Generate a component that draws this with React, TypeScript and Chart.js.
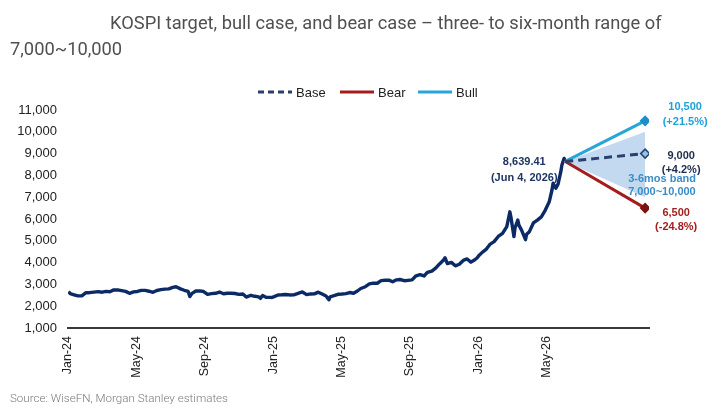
import React, { useEffect, useRef } from "react";
import { Chart, registerables } from "chart.js";

Chart.register(...registerables);

// KOSPI weekly closes (with key intraperiod turning points)
const dates = [
  "2024-01-02", "2024-01-05", "2024-01-12", "2024-01-19", "2024-01-26", "2024-02-02", "2024-02-08", "2024-02-16",
  "2024-02-23", "2024-03-01", "2024-03-08", "2024-03-15", "2024-03-22", "2024-03-29", "2024-04-05", "2024-04-12",
  "2024-04-19", "2024-04-26", "2024-05-03", "2024-05-10", "2024-05-17", "2024-05-24", "2024-05-31", "2024-06-07",
  "2024-06-14", "2024-06-21", "2024-06-28", "2024-07-05", "2024-07-11", "2024-07-19", "2024-07-26", "2024-08-02",
  "2024-08-05", "2024-08-09", "2024-08-16", "2024-08-23", "2024-08-30", "2024-09-06", "2024-09-13", "2024-09-20",
  "2024-09-27", "2024-10-04", "2024-10-11", "2024-10-18", "2024-10-25", "2024-11-01", "2024-11-08", "2024-11-14",
  "2024-11-22", "2024-11-29", "2024-12-06", "2024-12-09", "2024-12-13", "2024-12-20", "2024-12-27", "2024-12-30",
  "2025-01-03", "2025-01-10", "2025-01-17", "2025-01-24", "2025-01-31", "2025-02-07", "2025-02-14", "2025-02-21",
  "2025-02-28", "2025-03-07", "2025-03-14", "2025-03-21", "2025-03-28", "2025-04-04", "2025-04-09", "2025-04-11",
  "2025-04-18", "2025-04-25", "2025-05-02", "2025-05-09", "2025-05-16", "2025-05-23", "2025-05-30", "2025-06-05",
  "2025-06-13", "2025-06-20", "2025-06-27", "2025-07-04", "2025-07-11", "2025-07-18", "2025-07-25", "2025-08-01",
  "2025-08-08", "2025-08-14", "2025-08-22", "2025-08-29", "2025-09-05", "2025-09-12", "2025-09-19", "2025-09-26",
  "2025-10-02", "2025-10-10", "2025-10-17", "2025-10-24", "2025-10-31", "2025-11-03", "2025-11-07", "2025-11-14",
  "2025-11-21", "2025-11-28", "2025-12-05", "2025-12-12", "2025-12-19", "2025-12-26", "2025-12-30", "2026-01-02",
  "2026-01-09", "2026-01-16", "2026-01-23", "2026-01-30", "2026-02-06", "2026-02-13", "2026-02-20", "2026-02-25",
  "2026-02-27", "2026-03-04", "2026-03-06", "2026-03-11", "2026-03-13", "2026-03-18", "2026-03-25", "2026-03-27",
  "2026-04-01", "2026-04-08", "2026-04-15", "2026-04-22", "2026-04-29", "2026-05-06", "2026-05-11", "2026-05-13",
  "2026-05-18", "2026-05-22", "2026-05-27", "2026-05-29", "2026-06-02", "2026-06-04",
];

const kospi = [
  2669, 2578, 2525, 2472, 2478, 2615, 2620, 2648,
  2667, 2642, 2680, 2666, 2748, 2746, 2714, 2681,
  2591, 2656, 2676, 2727, 2724, 2687, 2636, 2722,
  2758, 2784, 2797, 2862, 2891, 2795, 2731, 2676,
  2441, 2588, 2697, 2701, 2674, 2544, 2575, 2593,
  2649, 2569, 2596, 2593, 2583, 2542, 2561, 2418,
  2501, 2455, 2428, 2360, 2494, 2404, 2404, 2399,
  2441, 2515, 2523, 2536, 2517, 2521, 2591, 2654,
  2532, 2563, 2566, 2643, 2557, 2465, 2293, 2432,
  2483, 2546, 2559, 2577, 2627, 2593, 2697, 2812,
  2894, 3021, 3055, 3054, 3175, 3188, 3196, 3119,
  3210, 3225, 3168, 3186, 3205, 3395, 3445, 3386,
  3549, 3610, 3748, 3941, 4107, 4221, 3953, 4011,
  3853, 3926, 4100, 4167, 4020, 4129, 4214, 4310,
  4480, 4620, 4850, 4960, 5200, 5340, 5650, 6330,
  6050, 5190, 5600, 5950, 5720, 5480, 5050, 5300,
  5420, 5820, 5950, 6100, 6410, 6790, 7330, 7640,
  7410, 7600, 8170, 8480, 8780, 8639.41,
];

// Scenario targets
const scenarioNames = ["Base", "Bear", "Bull"];
const scenarioTargets = [9000, 6500, 10500];
const scenarioChanges = ["+4.2%", "-24.8%", "+21.5%"];
const targetDate = "2026-10-25";
const bandRange = [7000, 10000];
const lastClose = 8639.41;
const lastCloseLabel = "(Jun 4, 2026)";

// Axis labels
const monthTickLabels = ["Jan-24", "May-24", "Sep-24", "Jan-25", "May-25", "Sep-25", "Jan-26", "May-26"];
const monthTickPositions = [0, 4, 8, 12, 16, 20, 24, 28];

const titleLine1 = "KOSPI target, bull case, and bear case \u2013 three- to six-month range of";
const titleLine2 = "7,000~10,000";
const sourceText = "Source: WiseFN, Morgan Stanley estimates";

// month offset from Jan 2024
function monthPos(d: string): number {
  const [y, m, dd] = d.split("-").map(Number);
  const dim = new Date(y, m, 0).getDate();
  return (y - 2024) * 12 + (m - 1) + (dd - 1) / dim;
}

const COLORS = {
  main: "#0c2b66",
  base: "#2a3f6e",
  bear: "#a51c1c",
  bull: "#29a6d9",
  band: "rgba(184, 210, 236, 0.85)",
  bandText: "#3b8dc8",
  baseText: "#1d2b4c",
  bullText: "#1ea2dc",
  bearText: "#a31f1f",
  lastText: "#1f3563",
};

const fmt = (v: number) => v.toLocaleString("en-US");

export default function App() {
  const canvasRef = useRef<HTMLCanvasElement | null>(null);

  useEffect(() => {
    document.body.style.margin = "0";
    const canvas = canvasRef.current;
    if (!canvas) return;

    const lastX = monthPos(dates[dates.length - 1]);
    const endX = monthPos(targetDate);
    const mainData = dates.map((d, i) => ({ x: monthPos(d), y: kospi[i] }));
    const apex = { x: lastX, y: lastClose };

    const scenarioColors = [COLORS.base, COLORS.bear, COLORS.bull];
    const markerFill = ["#8fc3ea", "#7c1212", "#1d8fc6"];
    const markerBorder = ["#2a3f6e", "#7c1212", "#1d8fc6"];

    const overlay = {
      id: "overlay",
      afterDraw(chart: any) {
        const ctx = chart.ctx as CanvasRenderingContext2D;
        const xs = chart.scales.x;
        const ys = chart.scales.y;
        ctx.save();

        // Title
        ctx.fillStyle = "#505050";
        ctx.font = "18.3px Roboto";
        ctx.textBaseline = "middle";
        ctx.textAlign = "left";
        ctx.fillText(titleLine1, 110, 24);
        ctx.fillText(titleLine2, 10, 50);

        // Source
        ctx.fillStyle = "#7a7a7a";
        ctx.font = "300 11.6px Roboto";
        ctx.fillText(sourceText, 10, 399);

        // Legend
        ctx.font = '13px "Liberation Sans", Arial';
        ctx.fillStyle = "#222222";
        const legendY = 92;
        const legendStarts = [258, 340, 418];
        scenarioNames.forEach((name, i) => {
          const x0 = legendStarts[i];
          ctx.beginPath();
          ctx.strokeStyle = scenarioColors[i];
          ctx.lineWidth = 3;
          ctx.setLineDash(i === 0 ? [6, 4] : []);
          ctx.moveTo(x0, legendY);
          ctx.lineTo(x0 + 34, legendY);
          ctx.stroke();
          ctx.setLineDash([]);
          ctx.fillText(name, x0 + 38, legendY + 1);
        });

        // Scenario labels
        const px = xs.getPixelForValue(endX);
        ctx.font = 'bold 11px "Liberation Sans", Arial';
        ctx.textAlign = "center";
        const textColors = [COLORS.baseText, COLORS.bearText, COLORS.bullText];
        const offsets = [
          { dx: 36, dy1: 2, dy2: 16 },
          { dx: 31, dy1: 5, dy2: 19 },
          { dx: 40, dy1: -14, dy2: 1 },
        ];
        scenarioTargets.forEach((t, i) => {
          const py = ys.getPixelForValue(t);
          ctx.fillStyle = textColors[i];
          ctx.fillText(fmt(t), px + offsets[i].dx, py + offsets[i].dy1);
          ctx.fillText(`(${scenarioChanges[i]})`, px + offsets[i].dx, py + offsets[i].dy2);
        });

        // Band label
        ctx.fillStyle = COLORS.bandText;
        ctx.textAlign = "left";
        const bandLow = ys.getPixelForValue(bandRange[0]);
        ctx.fillText("3-6mos band", px - 17, bandLow - 18);
        ctx.fillText(`${fmt(bandRange[0])}~${fmt(bandRange[1])}`, px - 17, bandLow - 5);

        // Last close label
        const ax = xs.getPixelForValue(apex.x);
        const ay = ys.getPixelForValue(apex.y);
        ctx.fillStyle = COLORS.lastText;
        ctx.textAlign = "center";
        ctx.fillText(lastClose.toLocaleString("en-US", { minimumFractionDigits: 2 }), ax - 41, ay + 1);
        ctx.fillText(lastCloseLabel, ax - 41, ay + 17);

        ctx.restore();
      },
    };

    const scenarioDatasets = scenarioTargets.map((t, i) => ({
      label: scenarioNames[i],
      data: [apex, { x: endX, y: t }],
      borderColor: scenarioColors[i],
      borderWidth: 3,
      borderDash: i === 0 ? [8, 5] : [],
      pointRadius: [0, 4.5],
      pointStyle: "rectRot",
      pointBackgroundColor: markerFill[i],
      pointBorderColor: markerBorder[i],
      pointBorderWidth: 1.5,
      fill: false,
      order: 1,
    }));

    const chart = new Chart(canvas, {
      type: "line",
      data: {
        datasets: [
          {
            label: "bandTop",
            data: [apex, { x: endX, y: bandRange[1] }],
            borderWidth: 0,
            borderColor: "transparent",
            pointRadius: 0,
            fill: false,
            order: 10,
          },
          {
            label: "bandBottom",
            data: [apex, { x: endX, y: bandRange[0] }],
            borderWidth: 0,
            borderColor: "transparent",
            backgroundColor: COLORS.band,
            pointRadius: 0,
            fill: "-1",
            order: 10,
          },
          {
            label: "KOSPI",
            data: mainData,
            borderColor: COLORS.main,
            borderWidth: 3.4,
            borderJoinStyle: "round",
            pointRadius: 0,
            tension: 0,
            fill: false,
            order: 5,
          },
          ...scenarioDatasets,
        ] as any,
      },
      options: {
        animation: false,
        responsive: false,
        maintainAspectRatio: false,
        layout: { padding: { left: 0, right: 71, top: 110, bottom: 27 } },
        plugins: {
          legend: { display: false },
          tooltip: { enabled: false },
          title: { display: false },
        },
        scales: {
          x: {
            type: "linear",
            min: 0,
            max: 34,
            grid: { display: false, drawTicks: false },
            border: { display: true, color: "#3a3a3a", width: 2 },
            afterFit(scale: any) {
              scale.height = 60;
            },
            afterBuildTicks(scale: any) {
              scale.ticks = monthTickPositions.map((v) => ({ value: v }));
            },
            ticks: {
              autoSkip: false,
              maxRotation: 90,
              minRotation: 90,
              padding: 8,
              color: "#222222",
              font: { family: '"Liberation Sans", Arial', size: 12.5 },
              callback: (v: any) => {
                const idx = monthTickPositions.indexOf(Number(v));
                return idx >= 0 ? monthTickLabels[idx] : "";
              },
            },
          },
          y: {
            type: "linear",
            min: 1000,
            max: 11000,
            grid: { display: false, drawTicks: false },
            border: { display: false },
            afterFit(scale: any) {
              scale.width = 68;
            },
            ticks: {
              stepSize: 1000,
              padding: 11,
              color: "#222222",
              font: { family: '"Liberation Sans", Arial', size: 13 },
              callback: (v: any) => fmt(Number(v)),
            },
          },
        },
      },
      plugins: [overlay],
    });

    return () => chart.destroy();
  }, []);

  return (
    <div style={{ width: 720, height: 415, background: "#ffffff" }}>
      <canvas ref={canvasRef} width={720} height={415} style={{ display: "block" }} />
    </div>
  );
}
